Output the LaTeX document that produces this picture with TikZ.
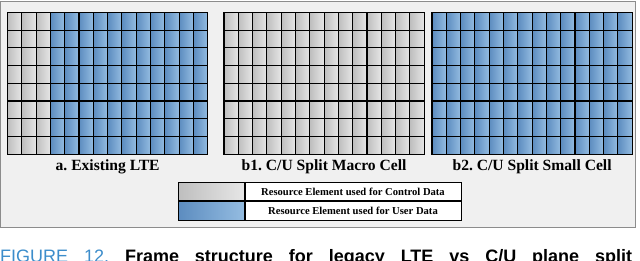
\documentclass[tikz,border=0pt]{standalone}
\usepackage{fontspec}
\setmainfont{Liberation Serif}
\newfontfamily\capfont{Liberation Sans}
\usetikzlibrary{positioning}
\frenchspacing
\definecolor{framefill}{HTML}{F0F0F0}
\definecolor{framegrey}{HTML}{8C8C8C}
\definecolor{ctrllight}{HTML}{E6E6E6}
\definecolor{ctrldark}{HTML}{BEBEBE}
\definecolor{userlight}{HTML}{94BCE1}
\definecolor{userdark}{HTML}{5C8CBF}
\definecolor{capblue}{HTML}{3C8DCB}
\tikzset{
  ctrlcell/.style = {left color=ctrldark, right color=ctrllight},
  usercell/.style = {left color=userdark, right color=userlight},
  gridline/.style = {draw=black, line width=1.1pt},
  gridlbl/.style  = {font=\fontsize{15.6}{17}\selectfont\bfseries, inner sep=0pt},
  keybox/.style   = {draw=black, line width=1pt, minimum width=66pt, minimum height=18.5pt, inner sep=0pt},
  keytxt/.style   = {keybox, fill=white, minimum width=216pt, font=\fontsize{10.6}{12}\selectfont\bfseries},
}

\begin{document}
\begin{tikzpicture}[x=1pt, y=-1pt]
  \path[use as bounding box, fill=white] (0,0) rectangle (640,260);
  \clip (0,0) rectangle (640,260);
  % panel
  \path[draw=framegrey, fill=framefill, line width=1pt] (0.5,1) rectangle (635,227);
  % resource grids: 14 x 8, first \nctrl columns for control data
  \foreach \gx/\nctrl in {7.5/3, 224/14, 432/0} {
    \foreach \c in {0,...,13} {
      \foreach \r in {0,...,7} {
        \ifnum\c<\nctrl
          \path[ctrlcell, gridline] (\gx+\c*14.3,12.5+\r*17.7) rectangle ++(14.3,17.7);
        \else
          \path[usercell, gridline] (\gx+\c*14.3,12.5+\r*17.7) rectangle ++(14.3,17.7);
        \fi
      }
    }
  }
  \node[gridlbl] (lblA)  at (107.6,167) {a. Existing LTE};
  \node[gridlbl] (lblB1) at (324.1,167) {b1. C/U Split Macro Cell};
  \node[gridlbl] (lblB2) at (532.1,167) {b2. C/U Split Small Cell};
  % legend
  \node[keybox, ctrlcell] (ctrlkey) at (211,191.5) {};
  \node[keytxt, right=0pt of ctrlkey] (ctrltxt) {Resource Element used for Control Data};
  \node[keybox, usercell, below=0pt of ctrlkey] (userkey) {};
  \node[keytxt, below=0pt of ctrltxt] (usertxt) {Resource Element used for User Data};
  % caption, cut by the page edge
  \node[anchor=base west, inner sep=0pt, font=\capfont\fontsize{18}{20}\selectfont] (caption) at (0,262)
    {\makebox[632pt][s]{\textcolor{capblue}{FIGURE 12.} \bfseries Frame structure for legacy LTE vs C/U plane split}};
\end{tikzpicture}
\end{document}
